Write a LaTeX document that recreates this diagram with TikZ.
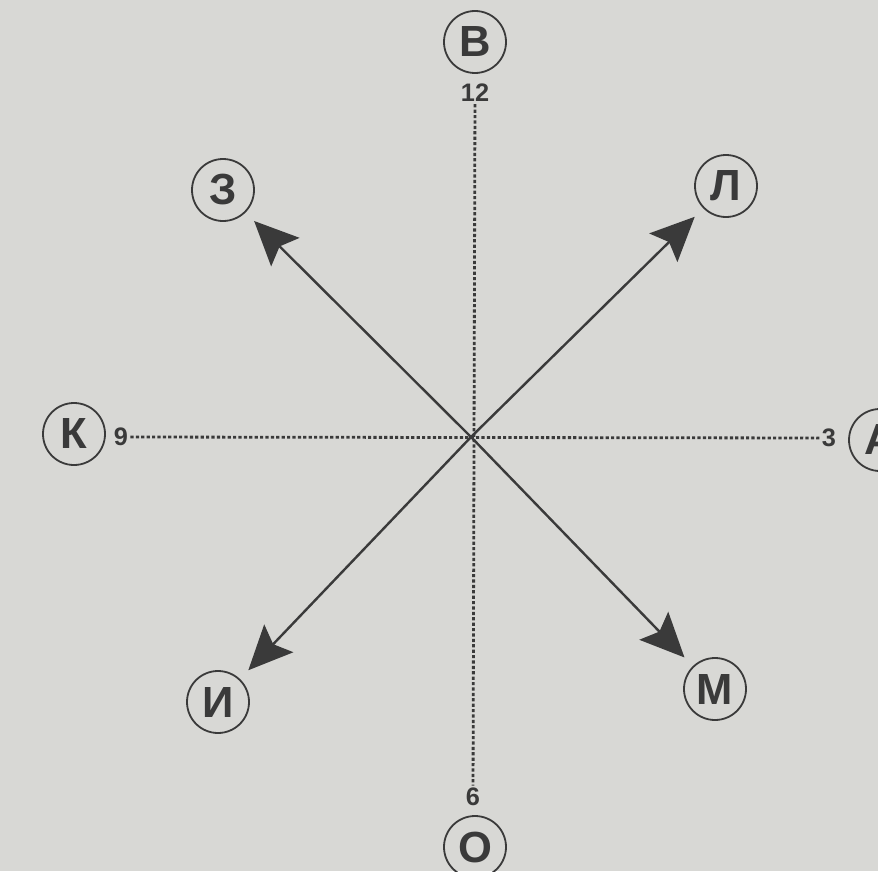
\documentclass[tikz,border=0pt]{standalone}
\usepackage{fontspec}
\setmainfont{Liberation Sans}
\usetikzlibrary{arrows.meta}
\definecolor{paper}{RGB}{216,216,213}
\definecolor{ink}{RGB}{58,58,58}
\tikzstyle{letter}=[circle, draw=ink, line width=0.45mm, text=ink, minimum size=15.5mm, inner sep=0pt, font=\fontsize{31}{31}\selectfont\bfseries]
\tikzstyle{hour}=[text=ink, inner sep=1.5pt, font=\fontsize{18}{18}\selectfont\bfseries]
\tikzstyle{axis}=[ink, line width=0.7mm, dash pattern=on 0.8mm off 0.55mm]
\tikzstyle{ray}=[ink, line width=0.6mm, -{Stealth[length=11mm, width=10mm, inset=2mm]}, shorten >=3mm]

\begin{document}
\begin{tikzpicture}[x=0.25mm, y=-0.25mm]
    \fill[paper] (0,0) rectangle (878,871);
    \clip (0,0) rectangle (878,871);
    \coordinate (c) at (471,437);
    \node[letter] (nV) at (475,42) {В};
    \node[letter] (nZ) at (223,190) {З};
    \node[letter] (nL) at (726,186) {Л};
    \node[letter] (nK) at (74,434) {К};
    \node[letter] (nA) at (880,440) {А};
    \node[letter] (nI) at (218,702) {И};
    \node[letter] (nM) at (715,689) {М};
    \node[letter] (nO) at (475,847) {О};
    \node[hour] (h12) at (475,93) {12};
    \node[hour] (h3) at (829,438) {3};
    \node[hour] (h6) at (473,797) {6};
    \node[hour] (h9) at (121,437) {9};
    \draw[axis] (h12) -- (h6);
    \draw[axis] (h9) -- (h3);
    \draw[ray] (c) -- (nZ);
    \draw[ray] (c) -- (nL);
    \draw[ray] (c) -- (nI);
    \draw[ray] (c) -- (nM);
\end{tikzpicture}
\end{document}
